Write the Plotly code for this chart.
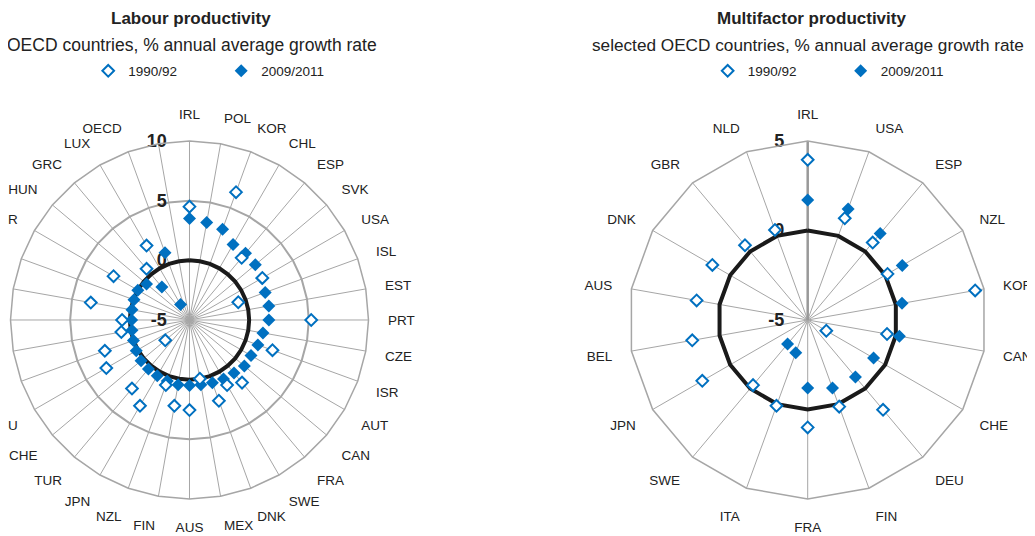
import plotly.graph_objects as go

# Labour productivity, OECD countries (% annual average growth rate)
lp_countries = ["IRL", "POL", "KOR", "CHL", "ESP", "SVK", "USA", "ISL", "EST", "PRT",
                "CZE", "ISR", "AUT", "CAN", "FRA", "SWE", "DNK", "MEX", "AUS", "FIN",
                "NZL", "JPN", "TUR", "CHE", "DEU", "BEL", "NLD", "NOR", "ITA", "SVN",
                "GBR", "HUN", "GRC", "LUX", "OECD", " "]
lp_1990_92 = [4.5, None, 6.4, None, 1.8, None, 2.05, -0.65, None, 5.2,
              None, 2.4, None, None, 1.85, 1.3, 2.2, 0.0, 2.55, 2.3,
              0.8, 3.3, 2.5, -2.35, 3.05, 2.55, 0.8, 0.65, 3.4, None,
              2.35, None, 0.6, 2.2, None, None]
lp_2009_11 = [3.5, 3.3, 3.1, 2.3, 2.3, 2.2, 2.0, 1.75, 1.75, 1.65,
              1.25, 1.1, 0.95, 1.0, 0.8, 0.7, 0.6, 0.5, 0.5, 0.5,
              0.45, 0.4, 0.35, 0.3, 0.15, 0.0, -0.1, -0.15, -0.1, -0.05,
              0.0, -0.3, -1.4, -3.5, 1.0, None]
lp_ticks = [-5, 0, 5, 10]

# Multifactor productivity, selected OECD countries
mfp_countries = ["IRL", "USA", "ESP", "NZL", "KOR", "CAN", "CHE", "DEU", "FIN",
                 "FRA", "ITA", "SWE", "JPN", "BEL", "AUS", "DNK", "GBR", "NLD"]
mfp_1990_92 = [3.95, 1.05, 0.65, 0.15, 4.5, -0.5, -3.8, 1.55, 0.15,
               1.0, 0.1, -0.25, 1.8, 1.55, 1.3, 1.15, 0.45, 0.35]
mfp_2009_11 = [1.7, 1.6, 1.3, 1.1, 0.35, 0.2, -0.75, -0.85, -0.95,
               -1.2, -3.05, -3.25, None, None, None, None, None, None]
mfp_ticks = [-5, 0, 5]

BLUE = "#0070C0"
GRID = "#A6A6A6"
TXT = "#222222"
FONT = "Liberation Sans, Arial, sans-serif"

fig = go.Figure()


def shift(vals, base):
    # plotly hides markers inside |rmin| when the radial range starts below 0
    # with a polygon grid, so the radial axis is offset to start at 0
    return [None if v is None else v - base for v in vals]


def add_radar(cats, old, new, ticks, subplot, legend):
    base = ticks[0]
    fig.add_trace(go.Scatterpolar(
        r=shift([0] * (len(cats) + 1), base), theta=cats + [cats[0]], mode="lines",
        line=dict(color="#1a1a1a", width=4), subplot=subplot,
        showlegend=False, hoverinfo="skip"))
    fig.add_trace(go.Scatterpolar(
        r=shift(new, base), theta=cats, customdata=new, mode="markers",
        name="2009/2011", subplot=subplot, legend=legend, legendrank=2,
        hovertemplate="%{theta}: %{customdata}<extra>2009/2011</extra>",
        marker=dict(symbol="diamond", size=10, color=BLUE)))
    fig.add_trace(go.Scatterpolar(
        r=shift(old, base), theta=cats, customdata=old, mode="markers",
        name="1990/92", subplot=subplot, legend=legend, legendrank=1,
        hovertemplate="%{theta}: %{customdata}<extra>1990/92</extra>",
        marker=dict(symbol="diamond", size=9, color="white",
                    line=dict(color=BLUE, width=2))))


add_radar(lp_countries, lp_1990_92, lp_2009_11, lp_ticks, "polar", "legend")
add_radar(mfp_countries, mfp_1990_92, mfp_2009_11, mfp_ticks, "polar2", "legend2")


def polar_layout(cats, ticks, xdom, axis_line):
    base = ticks[0]
    return dict(
        domain=dict(x=xdom, y=[0.08396, 0.75187]),
        bgcolor="white",
        gridshape="linear",
        angularaxis=dict(type="category", categoryarray=cats, rotation=90,
                         direction="clockwise", showline=True, linecolor=GRID,
                         linewidth=1.5, gridcolor=GRID, gridwidth=1.2,
                         ticks="outside", ticklen=16, tickcolor="rgba(0,0,0,0)",
                         tickfont=dict(family=FONT, size=13.5, color=TXT)),
        radialaxis=dict(range=[0, ticks[-1] - base],
                        tickvals=[t - base for t in ticks],
                        ticktext=[str(t) for t in ticks],
                        showline=axis_line, linecolor="#999999", linewidth=2.5,
                        ticks="outside", ticklen=16,
                        tickcolor="rgba(0,0,0,0)", tickangle=90,
                        gridcolor=GRID, gridwidth=1.5, angle=90,
                        side="counterclockwise", layer="below traces",
                        tickfont=dict(family=FONT, size=18, color=TXT,
                                      weight="bold")),
    )


legend_common = dict(orientation="h", xanchor="left", yanchor="middle",
                     bgcolor="rgba(0,0,0,0)", entrywidth=88, itemwidth=30,
                     font=dict(family=FONT, size=13.5, color=TXT),
                     traceorder="normal")


def ann(text, x, y, size):
    return dict(text=text, x=x / 1035, y=1 - y / 536, xref="paper", yref="paper",
                xanchor="center", yanchor="middle", showarrow=False,
                font=dict(family=FONT, size=size, color=TXT))


fig.update_layout(
    width=1035, height=536,
    margin=dict(l=0, r=0, t=0, b=0),
    paper_bgcolor="white",
    polar=polar_layout(lp_countries, lp_ticks, [0.00242, 0.3483], False),
    polar2=polar_layout(mfp_countries, mfp_ticks, [0.5997, 0.9456], True),
    legend=dict(x=0.0775, y=1 - 63 / 536, **legend_common),
    legend2=dict(x=0.676, y=1 - 63 / 536, **legend_common),
    annotations=[
        ann("<b>Labour productivity</b>", 183, 10, 17),
        ann("OECD countries, % annual average growth rate", 184, 37, 17.5),
        ann("<b>Multifactor productivity</b>", 803, 10, 17),
        ann("selected OECD countries, % annual average growth rate", 800, 37, 17.2),
    ],
)

fig.write_html("out.html")
